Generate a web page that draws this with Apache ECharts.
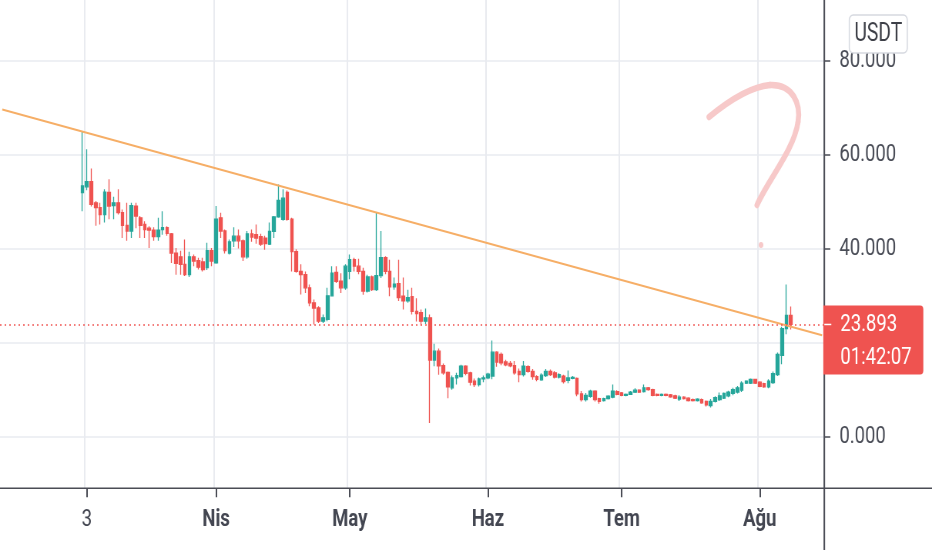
<!DOCTYPE html>
<html><head><meta charset="utf-8">
<script src="https://cdn.jsdelivr.net/npm/echarts@6/dist/echarts.min.js"></script>
<style>
html,body{margin:0;padding:0;background:#fff;overflow:hidden;width:932px;height:550px}
#c{width:1210px;height:550px;transform:scaleX(0.77024793);transform-origin:0 0}
</style>
</head><body><div id="c"></div>
<script>
// ---------- data ----------
const startDate = [2021, 1, 12];      // first category (Feb 12, 2021), axis padding before first candle
const dayCount = 185;                 // number of daily categories on the axis
const firstCandleDate = '2021-03-02';
const tickDates  = ['2021-03-03','2021-04-01','2021-05-01','2021-06-01','2021-07-01','2021-08-01'];
const tickLabels = ['3','Nis','May','Haz','Tem','Ağu'];
const tickBold   = [false,true,true,true,true,true];
const yTicks = [0,20,40,60,80];
const yLabelTicks = [0,40,60,80];     // 20.000 is hidden behind the price tag
const yMin = -11, yMax = 93;

// daily candles [open, close, low, high]
const ohlcMar = [
 [52.0,53.4,48.0,65.1],[53.2,54.3,52.5,61.2],[54.3,49.5,49.0,57.1],[49.8,48.8,44.9,50.2],[48.8,47.3,45.2,49.8],
 [47.3,52.1,45.6,52.7],[52.0,49.1,46.3,54.8],[49.2,49.8,46.3,51.1],[49.8,47.7,47.3,52.7],[47.7,45.0,42.3,48.4],
 [45.0,43.8,41.7,49.8],[43.8,49.2,42.3,49.8],[49.1,47.0,44.4,49.8],[46.6,45.0,42.3,47.0],[45.2,44.1,42.3,45.9],
 [44.4,44.0,40.2,44.8],[44.0,42.6,41.7,44.6],[42.6,44.0,41.7,46.6],[44.1,44.5,43.0,48.0],[44.5,43.3,42.8,44.8],
 [43.2,39.1,37.0,43.4],[39.1,36.9,34.5,40.2],[38.3,36.7,34.5,39.6],[36.7,34.5,34.2,42.0],[34.5,38.3,34.0,39.4],
 [38.3,37.4,36.3,38.8],[37.5,36.1,35.6,38.1],[37.2,35.6,35.2,38.1],[36.0,39.6,35.5,41.3],[39.6,37.4,36.3,40.2]
];
const ohlcApr = [
 [37.0,46.3,36.8,49.1],[46.6,43.8,42.3,47.7],[43.8,39.6,39.0,44.1],[39.1,41.5,38.8,42.0],[41.7,42.7,40.4,44.6],
 [42.7,41.7,40.1,44.1],[41.7,38.3,37.4,42.0],[38.3,43.2,37.9,43.8],[43.2,42.5,41.5,44.1],[43.0,42.3,41.1,45.2],
 [42.6,41.0,40.6,43.2],[42.3,41.1,39.8,42.8],[41.0,43.7,40.8,45.6],[43.7,46.8,42.3,47.0],[46.8,50.3,46.6,53.7],
 [46.3,50.8,46.0,52.7],[52.0,46.3,46.0,52.4],[46.3,39.4,35.2,46.6],[39.4,35.2,34.9,39.9],[35.2,34.5,30.3,36.7],
 [34.5,31.7,30.6,35.2],[31.7,28.5,27.8,32.4],[28.5,27.4,23.9,29.2],[27.4,24.6,24.2,27.8],[24.6,25.3,24.2,26.0],
 [25.0,30.0,24.6,31.7],[30.0,34.8,29.9,36.3],[35.0,33.1,32.7,36.3],[33.1,31.7,30.6,34.8],[31.7,36.3,31.3,36.7]
];
const ohlcMay = [
 [35.2,37.7,33.5,38.8],[37.7,36.3,35.2,38.1],[36.3,35.2,34.6,37.9],[35.2,31.0,30.2,36.0],[31.0,34.0,30.7,34.5],
 [34.0,31.3,31.0,34.3],[31.3,34.3,31.0,47.7],[34.3,38.1,33.8,43.8],[38.1,35.2,34.6,38.4],[35.2,31.9,29.9,37.7],
 [31.9,32.5,31.3,33.9],[32.6,29.6,28.9,37.7],[29.9,28.9,27.1,33.9],[28.9,29.6,28.5,31.3],[29.8,26.7,26.0,31.7],
 [26.7,26.2,24.5,29.5],[26.4,24.6,23.7,27.1],[24.6,25.3,24.0,27.3],[25.3,16.3,2.9,26.0],[16.3,18.2,15.0,19.8],
 [18.2,15.1,13.2,18.8],[15.1,13.6,13.2,15.6],[13.7,10.6,8.2,13.9],[10.4,12.5,10.0,13.0],[12.5,13.0,11.1,13.6],
 [12.8,15.0,12.6,15.3],[15.0,13.5,13.1,15.2],[13.6,11.6,10.9,13.8],[11.8,11.1,10.6,12.4],[11.1,12.3,10.7,12.6],
 [12.3,12.5,11.6,13.0]
];
const ohlcJun = [
 [12.5,13.3,12.2,13.6],[12.9,18.0,12.2,20.5],[18.0,15.9,14.9,18.2],[17.5,15.7,15.2,17.9],[15.9,15.3,15.0,16.4],
 [15.6,15.1,14.8,16.1],[15.1,13.6,13.2,16.1],[13.9,13.2,11.6,14.5],[13.2,15.0,12.8,16.1],[14.9,13.9,13.6,15.2],
 [13.9,12.8,12.1,14.4],[12.8,12.2,11.8,13.1],[12.1,13.1,11.9,13.5],[13.0,13.9,12.7,14.4],[13.9,13.2,12.9,14.3],
 [13.6,12.7,12.4,14.0],[12.7,13.2,12.4,13.5],[12.9,11.7,11.3,13.2],[12.0,12.5,11.4,14.1],[12.4,12.6,12.2,12.9],
 [12.4,9.1,8.6,12.6],[9.1,7.9,7.5,9.7],[7.9,8.8,7.5,9.3],[8.6,9.7,8.3,10.0],[9.7,7.9,7.5,9.9],
 [8.1,7.5,7.0,8.3],[7.7,8.1,7.5,8.3],[8.1,8.6,7.9,8.8],[8.4,9.7,8.2,11.1],[9.6,9.0,8.8,9.9]
];
const ohlcJul = [
 [9.3,8.8,8.6,9.5],[8.8,9.0,8.6,9.2],[9.0,9.5,8.9,9.7],[9.5,9.9,9.3,10.3],[9.9,9.5,9.3,10.1],
 [9.6,10.4,9.4,11.1],[10.4,10.0,9.8,10.6],[10.0,8.8,8.6,10.2],[9.0,8.8,8.6,9.2],[8.8,9.0,8.6,9.2],
 [9.0,8.8,8.6,9.2],[8.9,8.5,8.3,9.1],[8.7,8.2,8.0,8.9],[8.0,8.4,7.6,8.8],[8.4,8.1,7.9,8.6],
 [8.2,7.7,7.5,8.4],[7.9,7.7,7.5,8.1],[7.7,8.0,7.5,8.2],[7.9,7.2,7.0,8.1],[7.5,6.8,6.4,7.7],
 [6.6,7.5,6.2,8.0],[7.5,8.3,7.3,8.6],[7.9,8.7,7.6,9.4],[8.2,9.2,8.0,9.4],[8.7,9.5,8.4,9.8],
 [9.2,10.0,8.8,10.4],[9.5,10.4,9.2,10.8],[9.9,11.4,9.5,11.8],[11.4,11.8,11.2,12.0],[11.4,12.2,11.2,12.4],
 [12.2,11.4,11.2,12.3]
];
const ohlcAug = [
 [11.6,10.7,10.5,11.8],[11.3,10.6,10.4,11.5],[10.6,11.8,10.3,12.2],[11.5,13.4,11.2,13.9],[13.2,17.5,12.9,17.9],
 [17.3,23.0,15.4,23.4],[23.0,25.8,21.8,32.4],[25.8,23.893,22.8,27.7]
];
const trendStart = 69.7;   // trend line value at first category
const trendEnd = 21.6;     // trend line value at last category
const lastPrice = 23.893;
const countdown = '01:42:07';
const currency = 'USDT';

// ---------- build ----------
const SX = 932 / 1210;                // horizontal squeeze of the whole picture
const FONT = 'Roboto, "Noto Sans", sans-serif';
const UP = '#26a69a', DOWN = '#ef5350', GRIDC = '#e9ebf0', AXISC = '#4a4c55';
const W = 1210, H = 550;
const gridRight = 107.7 / SX, gridBottom = 61.7;
const sx = v => v / SX;

const categories = [];
for (let i = 0; i < dayCount; i++) {
  const d = new Date(Date.UTC(startDate[0], startDate[1], startDate[2]) + i * 86400000);
  categories.push(d.toISOString().slice(0, 10));
}
const allOhlc = [].concat(ohlcMar, ohlcApr, ohlcMay, ohlcJun, ohlcJul, ohlcAug);
const firstIdx = categories.indexOf(firstCandleDate);
const candleData = allOhlc.map((r, k) => [categories[firstIdx + k], r[0], r[1], r[2], r[3]]);
const tickSet = {};
tickDates.forEach((d, i) => tickSet[d] = i);
const isTick = (idx, val) => tickSet[val] !== undefined;

const chart = echarts.init(document.getElementById('c'), null, {renderer: 'canvas'});
chart.setOption({
  animation: false,
  backgroundColor: '#ffffff',
  grid: {left: 0, right: gridRight, top: 0, bottom: gridBottom},
  xAxis: {
    type: 'category', data: categories, boundaryGap: true,
    axisLine: {show: false, onZero: false},
    axisTick: {show: true, interval: isTick, alignWithLabel: true, length: 9, lineStyle: {color: AXISC, width: 2}},
    axisLabel: {
      interval: isTick, margin: 20, fontFamily: FONT, fontSize: 24, color: '#434651',
      formatter: v => {
        const i = tickSet[v];
        if (i === undefined) return '';
        return tickBold[i] ? '{b|' + tickLabels[i] + '}' : '{n|' + tickLabels[i] + '}';
      },
      rich: {
        b: {fontFamily: FONT, fontSize: 24, fontWeight: 'bold', color: '#434651'},
        n: {fontFamily: FONT, fontSize: 24, color: '#434651'}
      }
    },
    splitLine: {show: true, interval: isTick, lineStyle: {color: GRIDC, width: 2}}
  },
  yAxis: {
    type: 'value', position: 'right', min: yMin, max: yMax, scale: true,
    axisLine: {show: false},
    axisTick: {show: true, customValues: yTicks, length: sx(6), lineStyle: {color: AXISC, width: 1.5}},
    axisLabel: {customValues: yLabelTicks, margin: sx(15), fontFamily: FONT, fontSize: 24, color: '#4a4d57',
      formatter: v => v.toFixed(3)},
    splitLine: {show: true, lineStyle: {color: GRIDC, width: 1.5}}
  },
  series: [
    {
      type: 'candlestick', data: candleData, encode: {x: 0, y: [1, 2, 3, 4]},
      barWidth: sx(3.2),
      itemStyle: {color: UP, color0: DOWN, borderColor: UP, borderColor0: DOWN, borderWidth: 1.3},
      markLine: {
        silent: true, symbol: ['none', 'none'], animation: false,
        label: {show: false},
        lineStyle: {color: DOWN, type: [2, 4], width: 1.5},
        data: [{yAxis: lastPrice}]
      }
    },
    {
      type: 'line', z: 3, symbol: 'none', silent: true,
      data: [[categories[0], trendStart], [categories[categories.length - 1], trendEnd]],
      lineStyle: {color: '#f6ae66', width: 2}
    }
  ]
});

// overlay: frame lines, currency badge, price tag, hand-drawn question mark
const axisX = W - gridRight, axisY = H - gridBottom;
const py = chart.convertToPixel({yAxisIndex: 0}, lastPrice);
const QM = '#f7c9c9';
chart.setOption({
  graphic: {elements: [
    {type: 'line', z: 50, shape: {x1: 0, y1: axisY, x2: W, y2: axisY}, style: {stroke: AXISC, lineWidth: 1.5}},
    {type: 'line', z: 50, shape: {x1: axisX, y1: 0, x2: axisX, y2: H}, style: {stroke: AXISC, lineWidth: 2}},
    {type: 'rect', z: 60, shape: {x: axisX + sx(25), y: 15, width: sx(58), height: 38, r: 5},
      style: {fill: '#ffffff', stroke: '#d6d9e0', lineWidth: 1.5}},
    {type: 'text', z: 61, style: {x: axisX + sx(54), y: 34.5, text: currency, fill: '#3d3f47', font: '25px ' + FONT,
      textAlign: 'center', textVerticalAlign: 'middle'}},
    {type: 'rect', z: 60, shape: {x: axisX - sx(1), y: py - 19, width: sx(100), height: 69, r: [0, 4, 4, 0]}, style: {fill: '#ef5350'}},
    {type: 'line', z: 61, shape: {x1: axisX, y1: py, x2: axisX + sx(7), y2: py}, style: {stroke: '#ffffff', lineWidth: 1.5}},
    {type: 'text', z: 61, style: {x: axisX + sx(16), y: py + 1, text: lastPrice.toFixed(3), fill: '#ffffff', font: '24px ' + FONT, textVerticalAlign: 'middle'}},
    {type: 'text', z: 61, style: {x: axisX + sx(16), y: py + 34, text: countdown, fill: '#ffffff', font: '24px ' + FONT, textVerticalAlign: 'middle'}},
    {type: 'bezierCurve', z: 40, shape: {x1: sx(709), y1: 117, cpx1: sx(726), cpy1: 103, cpx2: sx(748), cpy2: 87, x2: sx(770), y2: 85},
      style: {fill: null, stroke: QM, lineWidth: 6.5, lineCap: 'round'}},
    {type: 'bezierCurve', z: 40, shape: {x1: sx(770), y1: 85, cpx1: sx(793), cpy1: 84, cpx2: sx(801), cpy2: 104, x2: sx(798), y2: 122},
      style: {fill: null, stroke: QM, lineWidth: 6.5, lineCap: 'round'}},
    {type: 'bezierCurve', z: 40, shape: {x1: sx(798), y1: 122, cpx1: sx(794), cpy1: 150, cpx2: sx(768), cpy2: 180, x2: sx(757), y2: 205},
      style: {fill: null, stroke: QM, lineWidth: 6.5, lineCap: 'round'}},
    {type: 'circle', z: 40, shape: {cx: sx(761), cy: 245, r: 3}, style: {fill: QM}}
  ]}
});
</script>
</body></html>
